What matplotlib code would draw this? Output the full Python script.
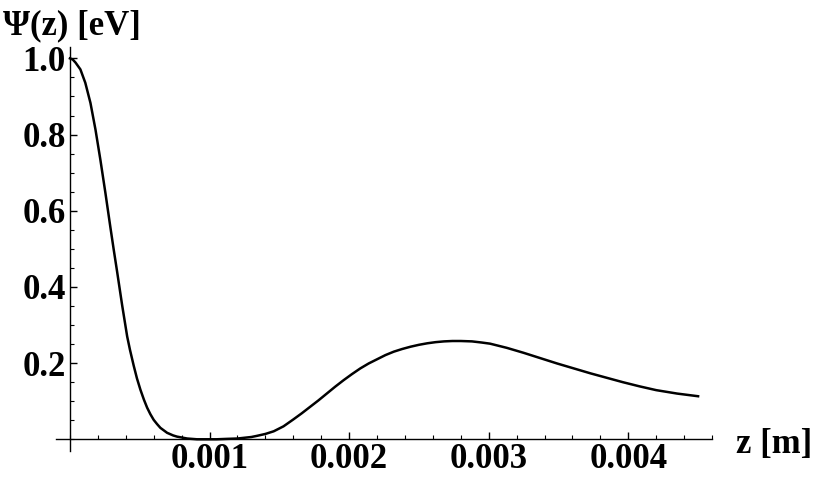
import matplotlib
matplotlib.use('Agg')
import matplotlib.pyplot as plt
from matplotlib.ticker import MultipleLocator, FixedLocator, FixedFormatter

plt.rcParams.update({
    'font.family': ['Liberation Serif', 'DejaVu Serif'],
    'font.weight': 'bold',
    'font.size': 25,
})

# curve (z in metres, psi in eV)
z = [0.0, 0.00002, 0.00004, 0.000075, 0.00011, 0.000147, 0.000183, 0.000218,
     0.000254, 0.00029, 0.000314, 0.000338, 0.000374, 0.00041, 0.00043,
     0.000457, 0.00048, 0.000505, 0.00053, 0.000553, 0.000576, 0.0006,
     0.000624, 0.000648, 0.000696, 0.00074, 0.000767, 0.00084, 0.00091,
     0.001, 0.00105, 0.00112, 0.0012, 0.0013, 0.00134, 0.0014, 0.00146,
     0.00153, 0.0016, 0.00166, 0.00172, 0.00178, 0.00184, 0.0019, 0.00196,
     0.00202, 0.00208, 0.00214, 0.0022, 0.00226, 0.00232, 0.00238, 0.00244,
     0.0025, 0.00256, 0.00262, 0.00268, 0.00274, 0.0028, 0.00288, 0.00295,
     0.00301, 0.00313, 0.00325, 0.00337, 0.00349, 0.00361, 0.00373, 0.00385,
     0.00396, 0.00408, 0.0042, 0.00435, 0.0045]
psi = [1.0, 0.997, 0.989, 0.971, 0.936, 0.883, 0.813, 0.734,
       0.647, 0.556, 0.497, 0.44, 0.352, 0.27, 0.235,
       0.193, 0.16, 0.13, 0.104, 0.083, 0.066, 0.051,
       0.04, 0.03, 0.017, 0.01, 0.007, 0.002, 0.0,
       0.0, 0.0, 0.001, 0.002, 0.006, 0.009, 0.014, 0.021,
       0.034, 0.052, 0.068, 0.085, 0.102, 0.12, 0.138, 0.155,
       0.171, 0.186, 0.199, 0.21, 0.221, 0.23, 0.237, 0.243,
       0.248, 0.252, 0.255, 0.257, 0.258, 0.258, 0.257, 0.254,
       0.251, 0.24, 0.227, 0.213, 0.199, 0.186, 0.173, 0.161,
       0.15, 0.139, 0.129, 0.12, 0.113]

x_ticks = [0.001, 0.002, 0.003, 0.004]
x_labels = ['0.001', '0.002', '0.003', '0.004']
y_ticks = [0.2, 0.4, 0.6, 0.8, 1.0]
y_labels = ['0.2', '0.4', '0.6', '0.8', '1.0']

fig = plt.figure(figsize=(8.16, 4.84), dpi=100)
ax = fig.add_axes([0.0686, 0.068, 0.804, 0.835])

ax.plot(z, psi, color='black', lw=1.8, solid_joinstyle='round')

ax.set_xlim(-0.0001, 0.0046)
ax.set_ylim(-0.031, 1.03)

ax.spines['left'].set_position(('data', 0))
ax.spines['bottom'].set_position(('data', 0))
ax.spines['top'].set_visible(False)
ax.spines['right'].set_visible(False)
for s in ('left', 'bottom'):
    ax.spines[s].set_linewidth(1.0)

ax.xaxis.set_major_locator(FixedLocator(x_ticks))
ax.xaxis.set_major_formatter(FixedFormatter(x_labels))
ax.yaxis.set_major_locator(FixedLocator(y_ticks))
ax.yaxis.set_major_formatter(FixedFormatter(y_labels))
ax.xaxis.set_minor_locator(MultipleLocator(0.0002))
ax.yaxis.set_minor_locator(MultipleLocator(0.05))

ax.tick_params(which='major', direction='in', length=5, width=1, pad=3)
ax.tick_params(which='minor', direction='in', length=3, width=0.8)
ax.tick_params(axis='y', which='major', pad=3)
for lab in ax.get_xticklabels() + ax.get_yticklabels():
    lab.set_fontweight('bold')

fig.text(0.004, 0.946, 'Ψ(z) [eV]', ha='left', va='center',
         fontsize=25, fontweight='bold')
fig.text(0.902, 0.082, 'z [m]', ha='left', va='center',
         fontsize=25, fontweight='bold')

fig.savefig('out.png', dpi=100, facecolor='white')
